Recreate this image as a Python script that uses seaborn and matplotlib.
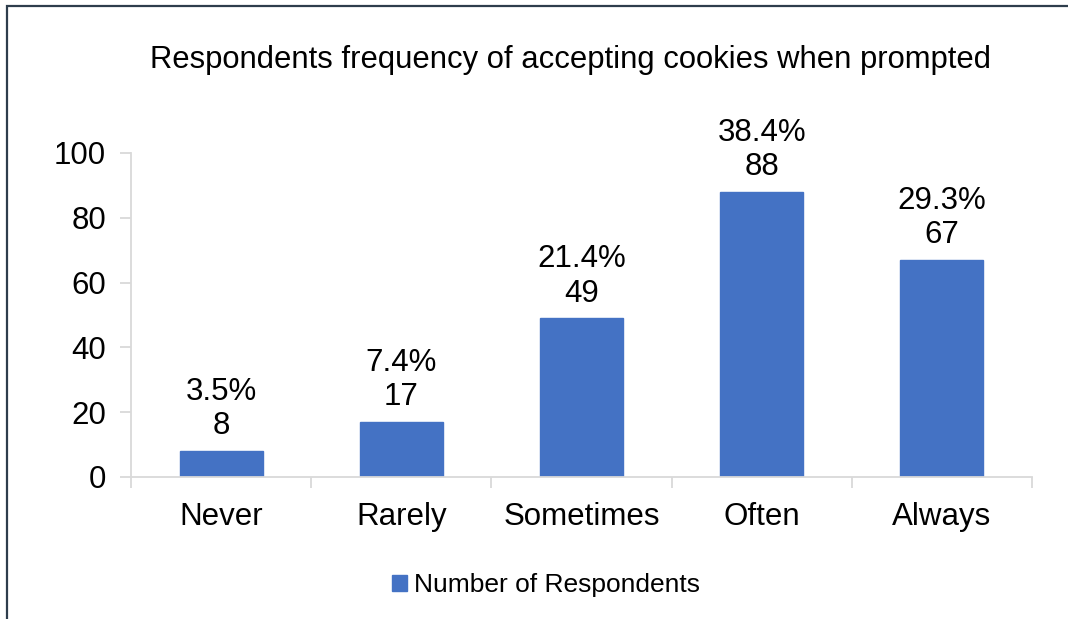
import matplotlib
matplotlib.use("Agg")
import matplotlib.pyplot as plt
import seaborn as sns
import pandas as pd
from matplotlib.patches import Rectangle
from matplotlib.ticker import FixedLocator

categories = ["Never", "Rarely", "Sometimes", "Often", "Always"]
counts = [8, 17, 49, 88, 67]
percents = ["3.5%", "7.4%", "21.4%", "38.4%", "29.3%"]
yticks = [0, 20, 40, 60, 80, 100]
series_name = "Number of Respondents"
title = "Respondents frequency of accepting cookies when prompted"

sns.set_theme(style="white")
plt.rcParams['font.family'] = ['Liberation Sans', 'DejaVu Sans']
plt.rcParams['text.color'] = 'black'

df = pd.DataFrame({"cat": categories, "n": counts})

fig = plt.figure(figsize=(10.68, 6.19), dpi=100)
ax = fig.add_axes([131/1068, 1 - 477/619, (1032 - 131)/1068, (477 - 153)/619])

bar_color = "#4472C4"
sns.barplot(data=df, x="cat", y="n", color=bar_color, width=0.46,
            saturation=1, ax=ax, label=series_name, edgecolor=bar_color)

ax.set_xlim(-0.5, len(categories) - 0.5)
ax.set_ylim(0, 100)
ax.set_yticks(yticks)
ax.set_xlabel("")
ax.set_ylabel("")

axis_col = "#D9D9D9"
for s in ["top", "right"]:
    ax.spines[s].set_visible(False)
for s in ["left", "bottom"]:
    ax.spines[s].set_color(axis_col)
    ax.spines[s].set_linewidth(1.3)

ax.tick_params(axis="y", which="major", length=8, width=1.3, color=axis_col,
               labelsize=22.5, labelcolor="black", pad=10, left=True)
ax.tick_params(axis="x", which="major", length=0, labelsize=22.5,
               labelcolor="black", pad=18)
ax.xaxis.set_minor_locator(FixedLocator([i - 0.5 for i in range(len(categories) + 1)]))
ax.tick_params(axis="x", which="minor", length=8, width=1.3, color=axis_col,
               bottom=True)

for i, (v, p) in enumerate(zip(counts, percents)):
    ax.annotate(f"{p}\n{v}", xy=(i, v), xytext=(0, 7), textcoords="offset points",
                ha="center", va="bottom", fontsize=22.5, color="black",
                linespacing=1.18)

fig.text(571/1068, 1 - 60/619, title, ha="center", va="center", fontsize=22.3,
         color="black")

leg = ax.legend(loc="center", bbox_to_anchor=(546/1068, 1 - 585/619),
                bbox_transform=fig.transFigure, frameon=False, fontsize=19,
                handlelength=0.55, handleheight=0.55, handletextpad=0.25,
                labelcolor="black")

fig.patches.append(Rectangle((6.5/1068, -0.1), 1.2, 1 - 6.5/619 + 0.1,
                             transform=fig.transFigure, fill=False,
                             edgecolor="#2E3D4C", linewidth=1.6))

fig.savefig("out.png", dpi=100)
